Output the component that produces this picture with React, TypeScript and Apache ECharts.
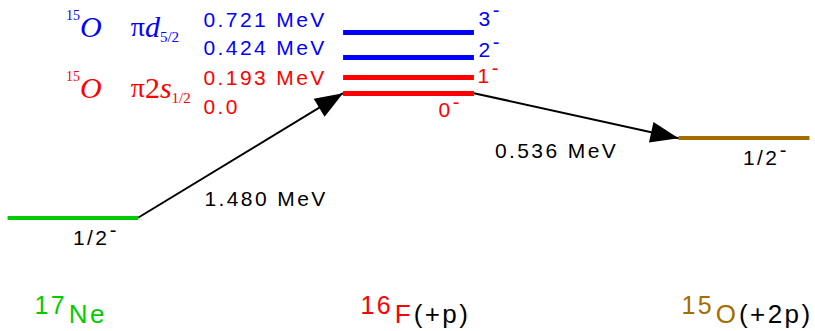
import React, { useEffect, useRef } from "react";
import * as echarts from "echarts";

// ---- data ----
const nucleusColumns = [0, 1, 2];
const nucleusMass = ["17", "16", "15"];
const nucleusSymbol = ["Ne", "F", "O"];
const nucleusSuffix = ["", "(+p)", "(+2p)"];
const neLevelEnergy = -1.48; // MeV relative to the 16F ground state
const fLevelEnergies = [0, 0.193, 0.424, 0.721];
const fLevelSpins = ["0", "1", "2", "3"];
const fEnergyLabels = ["0.0", "0.193 MeV", "0.424 MeV", "0.721 MeV"];
const oLevelEnergy = -0.536;
const transitionLabels = ["1.480 MeV", "0.536 MeV"];
const groundSpin = "1/2";
const configIsotope = "15";
const configElement = "O";

// ---- layout / style ----
const X_MIN = -0.2176;
const X_MAX = 2.2116;
const Y_MIN = -2.831;
const Y_MAX = 1.1095;
const HW = 0.195;
const SANS = "'Liberation Sans', Arial, sans-serif";
const SERIF = "'Liberation Serif', 'Times New Roman', serif";
const GREEN = "#00cc00";
const RED = "#ff0000";
const BLUE = "#0000ff";
const BROWN = "#a36d00";
const fColors = [RED, RED, BLUE, BLUE];
const nucleusColors = [GREEN, RED, BROWN];
// arrowhead: apex at the symbol centre (= line end), base 28px back, 21px wide
const ARROW_HEAD = "path://M28,28 L38.5,56 L17.5,56 Z M0,0 L0,0 M56,0 L56,0";
const energyOffsets: [number, number][] = [
  [-139.6, 13.3],
  [-139.6, 1],
  [-139.6, -10.1],
  [-139.6, -13.1],
];
const spinOffsets: [number, number][] = [
  [-35.4, 16.8],
  [3.6, -1],
  [4.6, -7.6],
  [4.6, -14.6],
];
const transitionOffsets: [number, number][] = [
  [-36.3, 43.1],
  [-81.3, 34.3],
];
const nucleusOffsets: [number, number][] = [
  [-38.5, -17],
  [-48, -17],
  [-62.5, -17],
];

function buildOption() {
  const levelData: any[] = [];
  levelData.push({
    coords: [
      [nucleusColumns[0] - HW, neLevelEnergy],
      [nucleusColumns[0] + HW, neLevelEnergy],
    ],
    lineStyle: { color: GREEN, width: 4, opacity: 1 },
  });
  fLevelEnergies.forEach((e, i) => {
    levelData.push({
      coords: [
        [nucleusColumns[1] - HW, e],
        [nucleusColumns[1] + HW, e],
      ],
      lineStyle: { color: fColors[i], width: 5, opacity: 1 },
    });
  });
  levelData.push({
    coords: [
      [nucleusColumns[2] - HW, oLevelEnergy],
      [nucleusColumns[2] + HW, oLevelEnergy],
    ],
    lineStyle: { color: BROWN, width: 4, opacity: 1 },
  });

  const arrows = [
    [
      [nucleusColumns[0] + HW, neLevelEnergy],
      [nucleusColumns[1] - HW, fLevelEnergies[0]],
    ],
    [
      [nucleusColumns[1] + HW, fLevelEnergies[0]],
      [nucleusColumns[2] - HW, oLevelEnergy],
    ],
  ];

  const labels: any[] = [];
  fLevelEnergies.forEach((e, i) => {
    labels.push({
      value: [nucleusColumns[1] - HW, e],
      label: { formatter: fEnergyLabels[i], offset: energyOffsets[i], color: fColors[i] },
    });
    labels.push({
      value: [nucleusColumns[1] + HW, e],
      label: { formatter: `{n|${fLevelSpins[i]}}{m|-}`, offset: spinOffsets[i], color: fColors[i] },
    });
  });
  arrows.forEach((a, i) => {
    labels.push({
      value: [(a[0][0] + a[1][0]) / 2, (a[0][1] + a[1][1]) / 2],
      label: { formatter: transitionLabels[i], offset: transitionOffsets[i], color: "#000" },
    });
  });
  labels.push({
    value: [nucleusColumns[0], neLevelEnergy],
    label: { formatter: `{n|${groundSpin}}{m3|-}`, offset: [0, 20], color: "#000" },
  });
  labels.push({
    value: [nucleusColumns[2], oLevelEnergy],
    label: { formatter: `{n|${groundSpin}}{m3|-}`, offset: [-1, 19.3], color: "#000" },
  });
  labels.push({
    value: [nucleusColumns[1] - HW, fLevelEnergies[2]],
    label: {
      formatter: `{iso|${configIsotope}}{el|${configElement}}{gap| }{pi|π}{it|d}{sub|5/2}`,
      offset: [-277, -30.6],
      color: BLUE,
    },
  });
  labels.push({
    value: [nucleusColumns[1] - HW, fLevelEnergies[1]],
    label: {
      formatter: `{iso|${configIsotope}}{el|${configElement}}{gap| }{pi|π}{up|2}{it|s}{sub|1/2}`,
      offset: [-277, 11],
      color: RED,
    },
  });
  nucleusColumns.forEach((c, i) => {
    const suffix = nucleusSuffix[i] ? `{bk|${nucleusSuffix[i]}}` : "";
    labels.push({
      value: [c, Y_MIN],
      label: {
        formatter: `{bs|${nucleusMass[i]}}{be|${nucleusSymbol[i]}}${suffix}`,
        offset: nucleusOffsets[i],
        color: nucleusColors[i],
      },
    });
  });

  return {
    animation: false,
    backgroundColor: "#ffffff",
    grid: { left: 0, right: 0, top: 0, bottom: 0 },
    xAxis: { type: "value", min: X_MIN, max: X_MAX, show: false },
    yAxis: { type: "value", min: Y_MIN, max: Y_MAX, show: false },
    series: [
      {
        type: "lines",
        coordinateSystem: "cartesian2d",
        silent: true,
        symbol: "none",
        lineStyle: { opacity: 1 },
        data: levelData,
      },
      {
        type: "lines",
        coordinateSystem: "cartesian2d",
        silent: true,
        symbol: ["none", ARROW_HEAD],
        symbolSize: [1, 56],
        lineStyle: { color: "#000", width: 2, opacity: 1 },
        data: arrows.map((c) => ({ coords: c })),
      },
      {
        type: "scatter",
        silent: true,
        symbolSize: 1,
        itemStyle: { color: "rgba(0,0,0,0)", opacity: 1 },
        label: {
          show: true,
          position: "inside",
          align: "left",
          verticalAlign: "middle",
          opacity: 1,
          fontFamily: SANS,
          fontSize: 21,
          rich: {
            n: { fontFamily: SANS, fontSize: 21, lineHeight: 36, verticalAlign: "middle" },
            m: { fontFamily: SANS, fontSize: 20, verticalAlign: "top", padding: [0, 0, 0, 2.5] },
            m3: { fontFamily: SANS, fontSize: 20, verticalAlign: "top", padding: [0, 0, 0, 7.5] },
            iso: { fontFamily: SERIF, fontSize: 14, verticalAlign: "top" },
            el: { fontFamily: SERIF, fontStyle: "italic", fontSize: 30, lineHeight: 36, verticalAlign: "middle" },
            gap: { fontFamily: SERIF, fontSize: 28, width: 29, verticalAlign: "middle" },
            pi: { fontFamily: SERIF, fontSize: 28, verticalAlign: "middle" },
            it: { fontFamily: SERIF, fontStyle: "italic", fontSize: 30, verticalAlign: "middle" },
            up: { fontFamily: SERIF, fontSize: 30, verticalAlign: "middle" },
            sub: { fontFamily: SERIF, fontSize: 15, verticalAlign: "bottom" },
            bs: { fontFamily: SANS, fontSize: 25, verticalAlign: "top", padding: [0, 6.5, 0, 0] },
            be: { fontFamily: SANS, fontSize: 26, lineHeight: 43, verticalAlign: "middle", padding: [0, 3, 0, 0] },
            bk: { fontFamily: SANS, fontSize: 26, verticalAlign: "middle", color: "#000" },
          },
        },
        data: labels,
      },
    ],
  };
}

export default function App() {
  const ref = useRef<HTMLDivElement>(null);
  useEffect(() => {
    if (!ref.current) return;
    const chart = echarts.init(ref.current, undefined, { renderer: "svg" });
    chart.setOption(buildOption() as any);
    return () => chart.dispose();
  }, []);
  return (
    <>
      <style>{`text[style*="Liberation Sans"]{letter-spacing:2.4px;}`}</style>
      <div
        ref={ref}
        style={{ position: "absolute", left: 0, top: 0, width: 815, height: 331, background: "#fff" }}
      />
    </>
  );
}
